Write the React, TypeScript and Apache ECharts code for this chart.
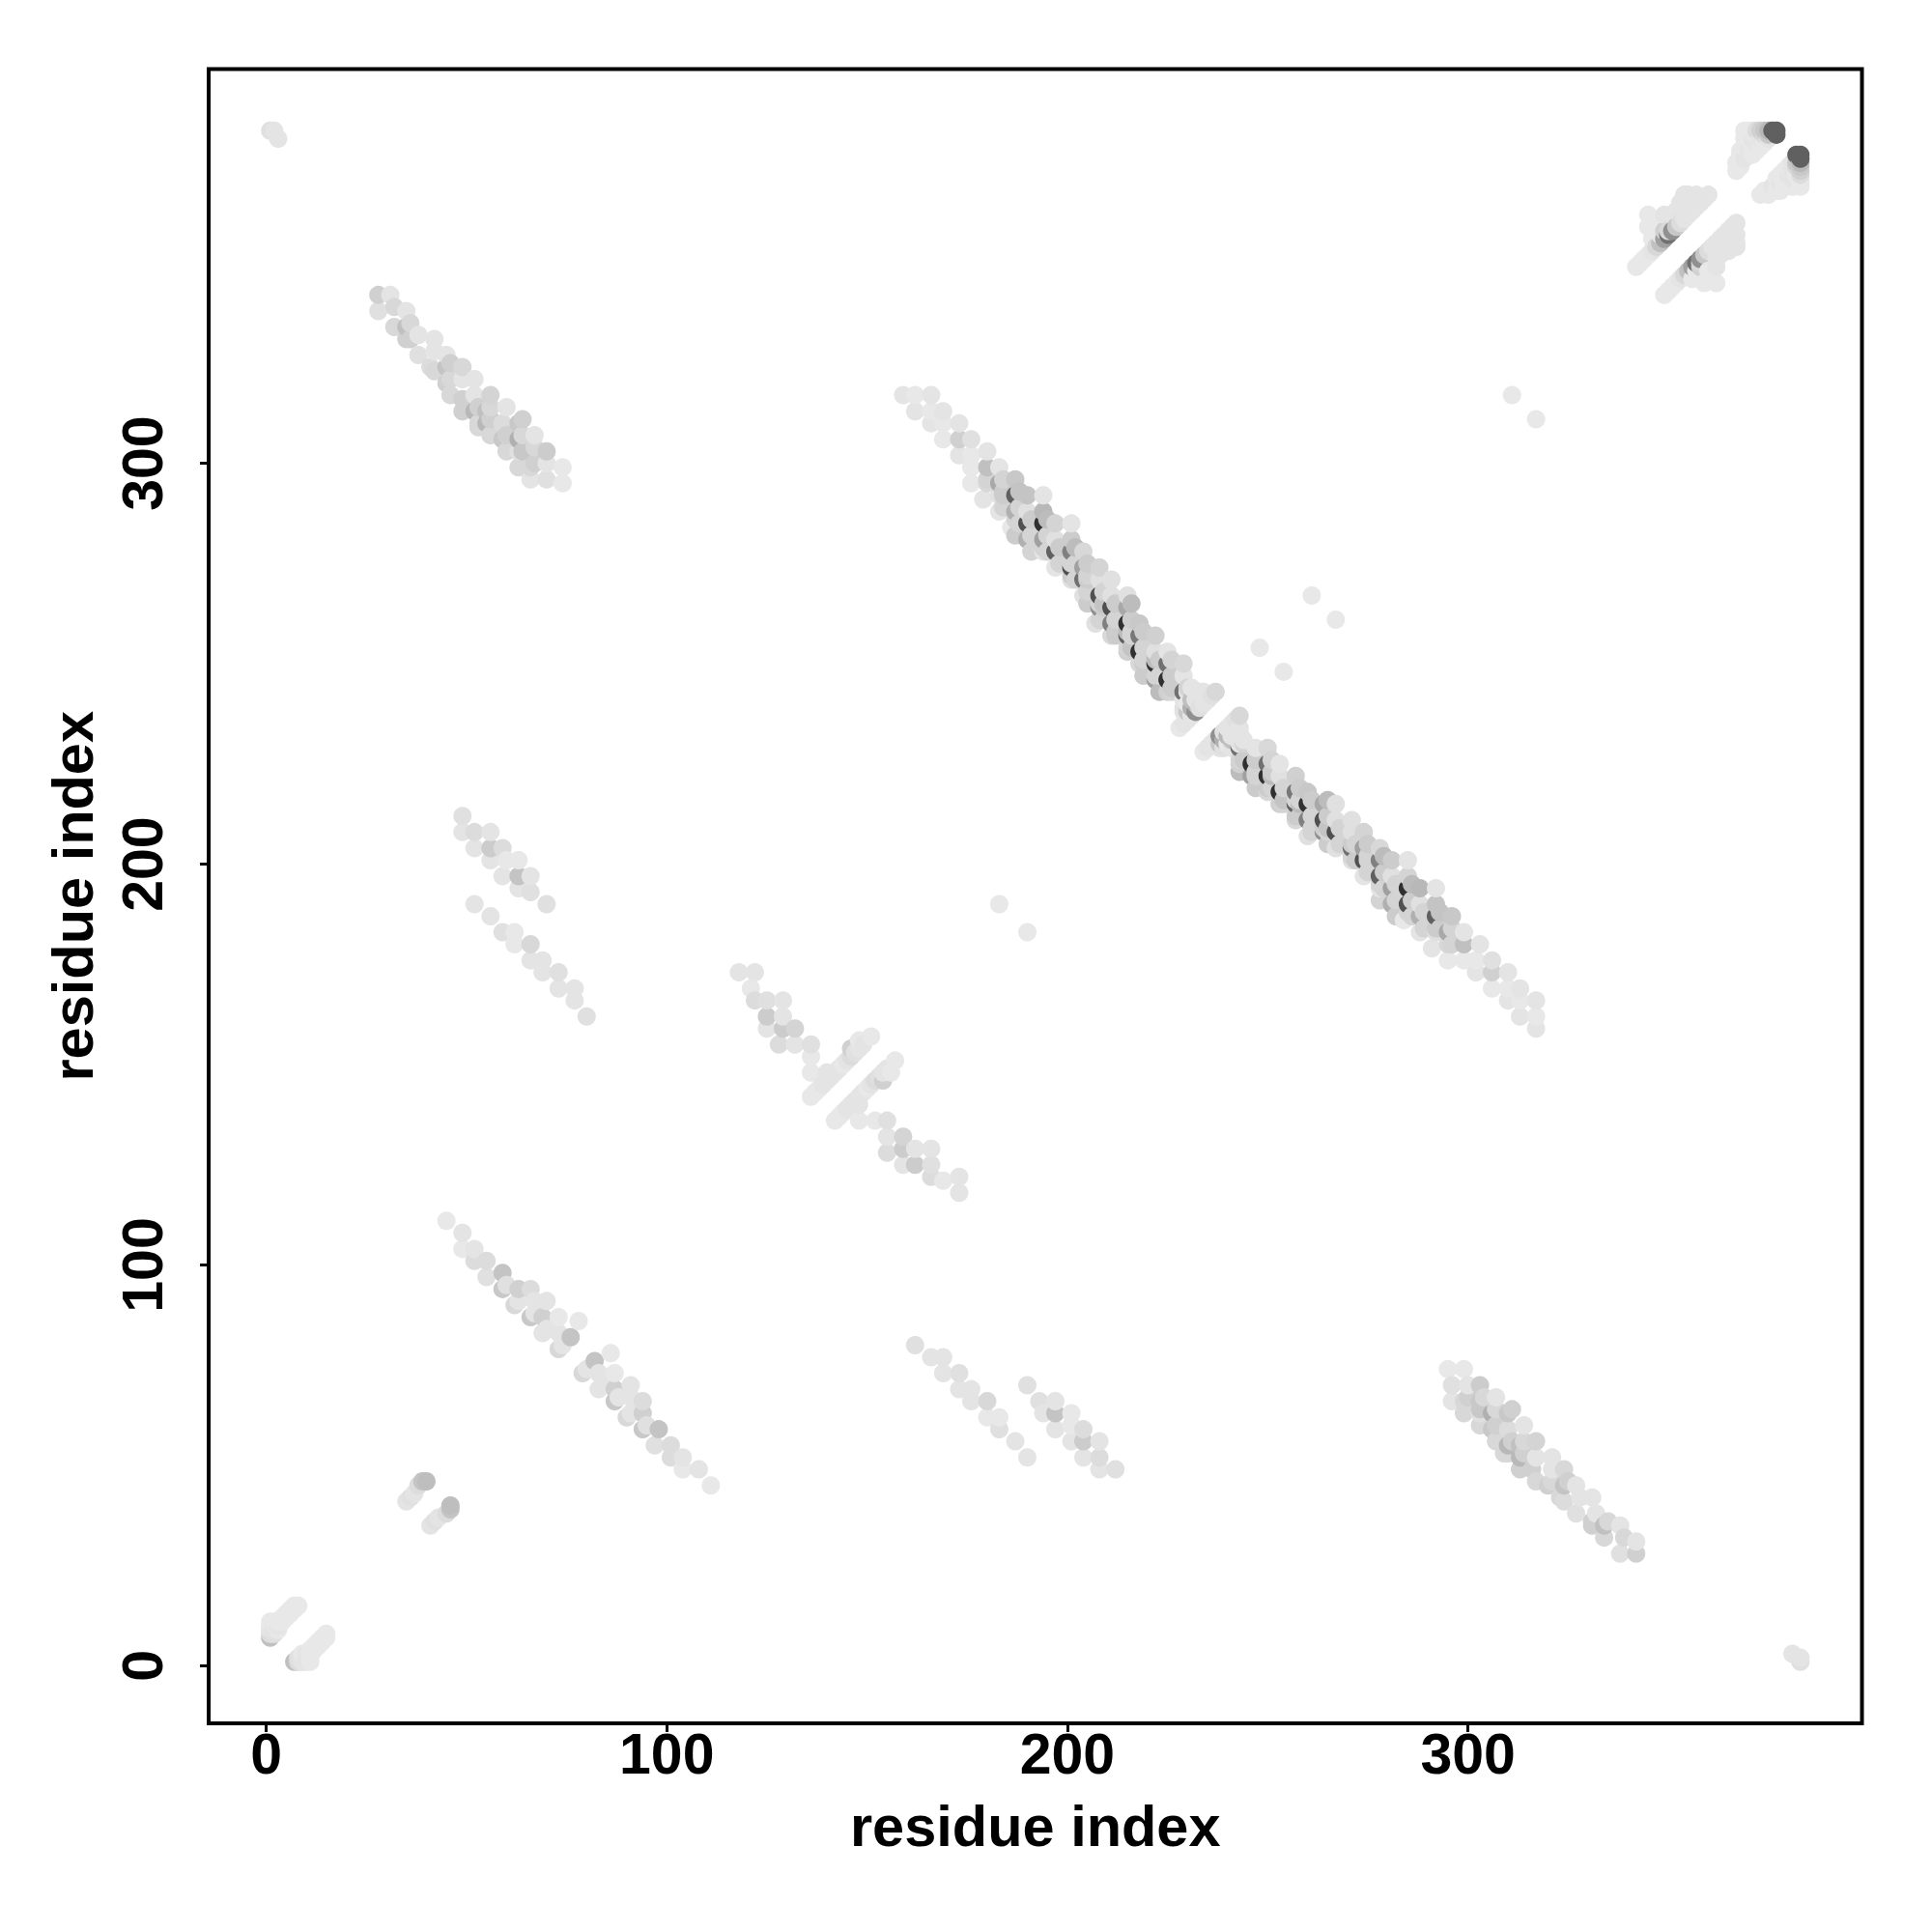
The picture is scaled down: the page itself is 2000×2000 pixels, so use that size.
import React, { useEffect, useRef } from "react";
import * as echarts from "echarts";

type Contact = [number, number, number];

const tickValues = [0, 100, 200, 300];
const xTitle = "residue index";
const yTitle = "residue index";
const axisMin = -14.36;
const axisMax = 398.36;

// Each list holds one half of the symmetric map as [i, j, grey level], with i < j.
const mainBand: Contact[] = [
  [159,317,228],[162,317,232],[162,313,228],[166,317,228],[166,313,232],[166,310,228],
  [169,313,228],[169,310,232],[169,306,232],[173,310,228],[173,306,208],[173,302,228],
  [176,306,224],[176,302,232],[176,299,232],[176,295,232],[180,303,228],[180,299,192],[180,295,216],[179,291,228],
  [183,299,228],[183,295,168],[183,292,224],[183,288,228],[187,296,200],[187,292,96],[187,288,176],[186,284,232],
  [190,292,196],[190,288,224],[190,285,80],[190,281,176],[194,292,228],[194,288,184],[194,285,48],[194,281,160],[194,278,228],
  [197,285,212],[197,281,224],[197,278,96],[197,274,228],[201,285,228],[201,281,204],[201,278,128],[201,274,80],[201,271,224],
  [204,278,216],[204,274,160],[204,271,112],[204,267,224],[208,274,212],[208,271,224],[208,267,80],[208,264,144],[207,260,224],
  [211,271,224],[211,267,224],[211,264,80],[211,260,128],[211,257,216],[215,267,224],[215,264,168],[215,260,48],[215,257,96],[215,253,208],
  [218,260,200],[218,257,120],[218,253,48],[218,250,216],[222,257,208],[222,253,224],[222,250,48],[222,246,160],
  [225,253,228],[225,250,112],[225,246,48],[225,243,208],[229,250,216],[229,247,228],[229,243,112],[229,241,228],[229,239,224],[229,238,228],
  [228,234,232],[229,235,228],[230,236,228],[230,238,200],[230,240,232],[230,243,228],[231,237,228],[231,239,176],[231,241,192],[231,244,228],
  [232,238,144],[232,240,184],[232,241,228],[233,239,224],[233,243,228],[234,240,228],[234,243,228],[235,241,228],[236,242,224],[237,243,216],
];

// Lighter contacts that sit over the dark ones and leave only their crescents showing.
const mainBandLight: Contact[] = [
  [184,296,212],[184,292,204],[180,296,212],[188,293,196],[188,289,212],[184,293,204],[188,285,212],[184,289,212],
  [191,286,204],[191,282,212],[187,286,212],[191,278,212],[187,282,204],[195,286,188],[195,282,212],[195,278,212],
  [198,279,204],[198,275,212],[194,279,212],[202,279,188],[202,275,212],[202,271,212],[205,275,204],[205,271,204],[201,275,212],
  [205,272,212],[205,268,212],[201,272,204],[209,268,212],[209,264,204],[209,265,196],[209,261,212],[205,265,204],
  [212,265,204],[212,261,212],[208,265,212],[212,257,204],[208,261,212],[216,265,188],[216,261,204],[216,257,212],
  [216,258,212],[216,254,196],[212,258,204],[219,258,204],[219,254,212],[215,258,188],[219,250,204],[215,254,212],
  [223,251,204],[223,247,212],[219,251,212],[223,243,188],[219,247,204],[226,251,212],[226,247,204],[222,251,188],
  [226,243,212],[222,247,212],[230,244,212],[226,244,204],
];

const upperLeftBand: Contact[] = [
  [28,342,208],[28,338,224],[31,342,228],[32,339,216],[32,334,216],[35,338,228],[35,334,192],[35,331,208],
  [38,332,228],[38,327,224],[41,324,220],[42,331,228],[42,328,228],[45,327,228],[45,324,196],[45,320,208],
  [49,324,216],[49,321,228],[49,316,208],[52,321,228],[52,317,228],[52,313,184],[56,317,212],[55,313,192],[55,310,184],
  [60,314,228],[59,310,220],[59,306,200],[63,310,200],[63,306,176],[63,303,224],[67,307,228],[66,303,200],[66,299,216],
  [70,303,204],[70,300,228],[70,296,224],[74,299,232],[74,295,232],
  [36,335,216],[36,331,208],[46,325,208],[46,321,216],[53,314,208],[53,310,216],[56,314,216],[56,311,208],[56,307,216],
  [60,307,208],[60,303,216],[64,311,208],[64,307,216],[64,303,200],[67,304,216],[67,300,208],
  [42,323,216],[46,317,216],[49,313,208],[53,309,216],[63,299,216],[66,296,228],
];

const lowerBand: Contact[] = [
  [45,111,232],[49,108,228],[49,104,232],[52,104,228],[52,101,220],[55,101,220],[55,97,224],[59,98,196],[59,94,200],
  [63,94,208],[62,90,216],[66,94,220],[66,87,200],[67,91,228],[70,91,228],[69,87,208],[69,83,228],
  [73,87,232],[73,83,228],[73,79,216],[76,82,196],[78,86,232],[60,95,224],[63,91,228],[67,88,228],[70,84,228],[74,80,228],
];

const centreBand: Contact[] = [
  [118,173,228],[122,173,228],[121,169,232],[122,166,220],[125,166,224],[129,166,228],[125,162,204],[129,162,228],
  [125,159,228],[129,159,204],[132,159,212],[128,155,220],[132,155,228],[136,155,224],[136,152,232],[136,148,232],
  [136,142,232],[137,143,232],[138,144,232],[139,145,228],[140,146,228],[140,148,228],[141,147,228],[142,148,228],
  [143,149,228],[144,150,232],[145,151,228],[146,152,220],[146,154,208],[147,153,224],[148,154,228],[148,156,232],[149,155,228],[151,157,232],
];

const helixPairs: Contact[] = [
  [49,212,224],[49,208,228],[52,208,220],[52,204,228],[56,208,228],[56,204,204],[56,201,228],[59,204,220],[60,201,232],
  [59,197,228],[63,201,232],[63,197,196],[63,194,228],[66,197,228],[66,193,224],[70,190,224],
];

const helixPairsLower: Contact[] = [
  [52,190,228],[56,187,228],[59,183,224],[62,183,232],[62,180,232],[66,180,216],[66,176,228],[69,176,228],
  [69,173,228],[73,173,224],[73,169,228],[77,169,228],[77,166,228],[80,162,224],
];

const cornerFirst: Contact[] = [
  [1,7,192],[1,8,220],[1,9,228],[1,10,228],[1,11,232],[2,8,224],[2,9,228],[2,10,228],[2,11,232],[3,9,232],[3,10,228],[3,11,232],
  [4,11,232],[4,12,232],[5,12,232],[5,13,232],[6,13,232],[6,14,232],[7,14,232],[7,15,232],[8,15,232],
];

const shortSegment: Contact[] = [
  [35,41,228],[36,42,224],[37,43,228],[38,45,220],[39,46,196],[40,46,190],
];

const cornerLast: Contact[] = [
  [342,349,232],[343,350,232],[344,351,232],[345,352,232],[345,359,232],[345,362,232],[346,353,228],[346,356,232],
  [347,354,216],[348,355,192],[348,357,232],[348,360,232],[349,356,160],[349,358,208],[349,362,228],[350,357,112],[350,358,216],
  [351,358,144],[351,362,228],[352,359,200],[352,363,228],[353,360,220],[353,365,228],[354,361,228],[354,367,228],
  [355,362,228],[355,367,228],[356,363,228],[357,364,228],[357,367,228],[358,365,228],[359,366,228],[360,367,228],
  [367,373,232],[367,375,232],[368,374,232],[368,377,232],[368,378,232],[369,376,228],[369,379,232],[369,381,232],[369,383,232],
  [370,378,228],[370,381,232],[370,383,232],[371,377,232],[371,379,232],[371,381,228],[371,383,232],[372,378,232],[372,380,228],[372,382,232],[372,383,220],
  [373,379,232],[373,381,228],[373,383,208],[374,380,232],[374,382,216],[374,383,200],[375,381,228],[375,382,200],[375,383,184],
  [376,383,96],[377,382,96],[377,383,96],
];

const scattered: Contact[] = [
  [1,383,224],[2,383,228],[3,381,228],[311,317,232],[261,267,232],[248,254,232],[183,190,232],
];

const halves = [mainBand, mainBandLight, upperLeftBand, lowerBand, centreBand, helixPairs, helixPairsLower, cornerFirst, shortSegment, cornerLast, scattered];

const points = halves
  .flat()
  .flatMap(([i, j, g]) => [[i, j, g], [j, i, g]])
  .sort((a, b) => a[0] - b[0] || a[1] - b[1]);

const FONT = '"Liberation Sans", Arial, sans-serif';

export default function App() {
  const ref = useRef<HTMLDivElement>(null);
  useEffect(() => {
    const chart = echarts.init(ref.current!, null, { renderer: "svg" });
    const axisCommon = {
      type: "value" as const,
      min: axisMin,
      max: axisMax,
      nameLocation: "middle" as const,
      nameTextStyle: { fontFamily: FONT, fontWeight: "bold" as const, fontSize: 59.5, color: "#000" },
      axisLine: { show: false, onZero: false },
      axisTick: { show: true, length: 9, inside: false, customValues: tickValues, lineStyle: { color: "#000", width: 3 } },
      splitLine: { show: false },
    };
    chart.setOption({
      animation: false,
      backgroundColor: "#fff",
      grid: { show: true, left: 216, top: 71.5, width: 1711.5, height: 1712.5, borderColor: "#000", borderWidth: 4, backgroundColor: "transparent" },
      xAxis: {
        ...axisCommon,
        name: xTitle,
        nameGap: 76,
        axisLabel: { customValues: tickValues, margin: 2, fontFamily: FONT, fontWeight: "bold", fontSize: 59, color: "#000" },
      },
      yAxis: {
        ...axisCommon,
        name: yTitle,
        nameGap: 111,
        axisLabel: { customValues: tickValues, rotate: 90, margin: 39, fontFamily: FONT, fontWeight: "bold", fontSize: 59, color: "#000" },
      },
      series: [
        {
          type: "scatter",
          symbol: "circle",
          symbolSize: 19,
          clip: false,
          large: false,
          data: points,
          itemStyle: {
            opacity: 1,
            color: (p: any) => {
              const g = p.value[2];
              return `rgb(${g},${g},${g})`;
            },
          },
          silent: true,
        },
      ],
    });
    return () => chart.dispose();
  }, []);
  return <div ref={ref} style={{ position: "absolute", left: 0, top: 0, width: 2000, height: 2000 }} />;
}
